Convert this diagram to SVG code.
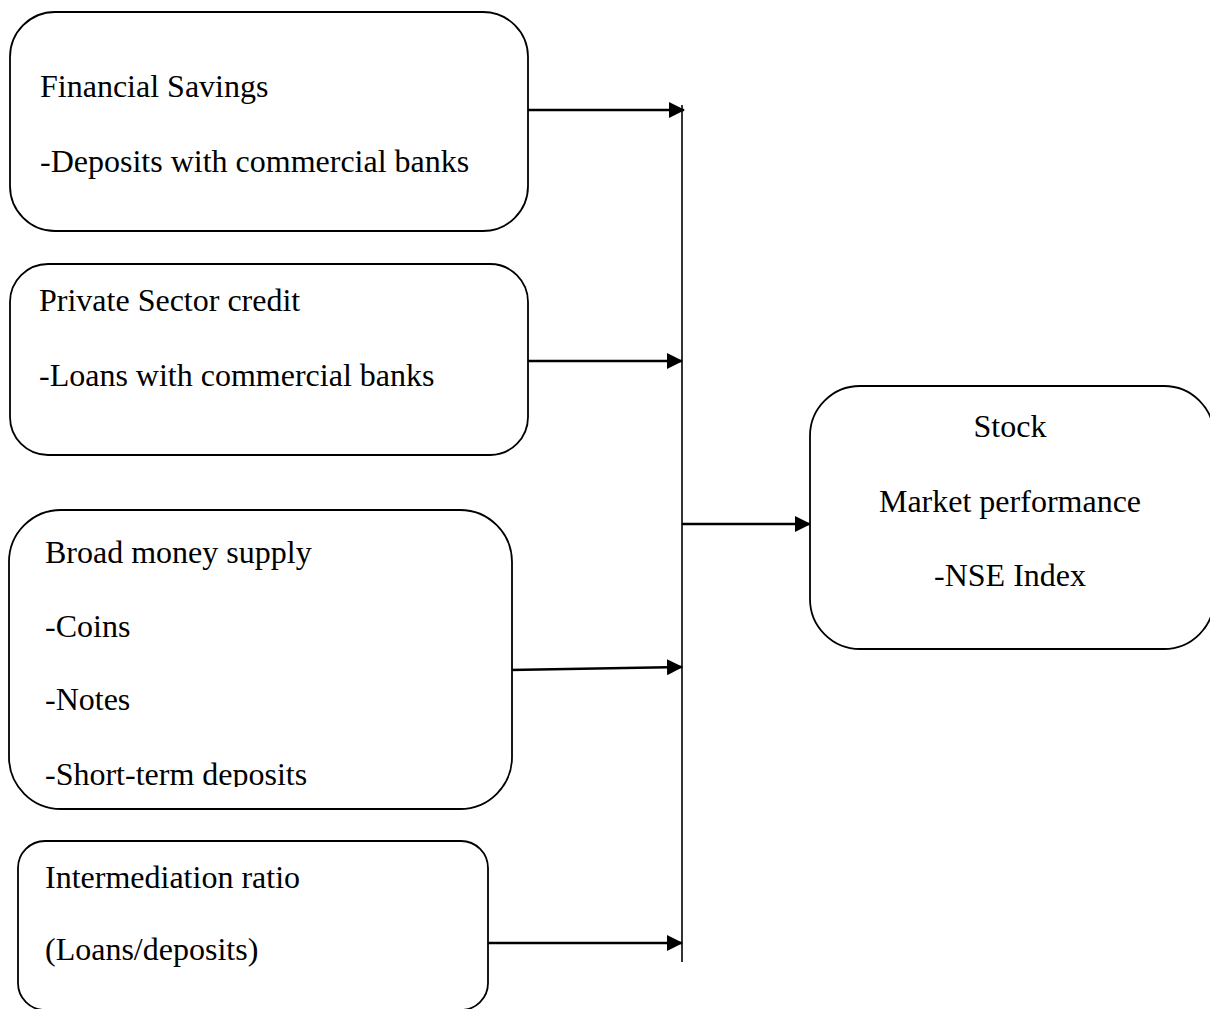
<svg xmlns="http://www.w3.org/2000/svg" width="1210" height="1009" viewBox="0 0 1210 1009">
<style>
.box{fill:#fff;stroke:#000;stroke-width:1.8}
.t{font-family:"Liberation Serif","Times New Roman",serif;font-size:32px;fill:#000}
.c{text-anchor:middle}
.ln{stroke:#000;stroke-width:2.4;fill:none}
.vl{stroke:#000;stroke-width:1.6;fill:none}
</style>
<defs>
<marker id="ah" markerWidth="16" markerHeight="16" refX="15" refY="8" orient="auto" markerUnits="userSpaceOnUse">
<path d="M0,0 L16,8 L0,16 Z" fill="#000"/>
</marker>
<clipPath id="c3"><rect x="0" y="500" width="600" height="287"/></clipPath>
</defs>
<rect width="1210" height="1009" fill="#fff"/>
<g id="connectors">
<line class="vl" x1="682" y1="105" x2="682" y2="962"/>
<line class="ln" x1="526" y1="110" x2="684" y2="110" marker-end="url(#ah)"/>
<line class="ln" x1="526" y1="361" x2="682" y2="361" marker-end="url(#ah)"/>
<line class="ln" x1="510" y1="670" x2="682" y2="667" marker-end="url(#ah)"/>
<line class="ln" x1="488" y1="943" x2="682" y2="943" marker-end="url(#ah)"/>
<line class="ln" x1="682" y1="524" x2="810" y2="524" marker-end="url(#ah)"/>
</g>
<g id="financial-savings">
<rect class="box" x="10" y="12" width="518" height="219" rx="45" ry="45"/>
<text class="t" x="40" y="97">Financial Savings</text>
<text class="t" x="40" y="172">-Deposits with commercial banks</text>
</g>
<g id="private-sector-credit">
<rect class="box" x="10" y="264" width="518" height="191" rx="38" ry="38"/>
<text class="t" x="39" y="311">Private Sector credit</text>
<text class="t" x="39" y="386">-Loans with commercial banks</text>
</g>
<g id="broad-money-supply">
<rect class="box" x="9" y="510" width="503" height="299" rx="52" ry="52"/>
<g clip-path="url(#c3)">
<text class="t" x="45" y="563">Broad money supply</text>
<text class="t" x="45" y="637">-Coins</text>
<text class="t" x="45" y="710">-Notes</text>
<text class="t" x="45" y="785">-Short-term deposits</text>
</g>
</g>
<g id="intermediation-ratio">
<rect class="box" x="18" y="841" width="470" height="169" rx="27" ry="27"/>
<text class="t" x="45" y="888">Intermediation ratio</text>
<text class="t" x="45" y="960">(Loans/deposits)</text>
</g>
<g id="stock-market-performance">
<rect class="box" x="810" y="386" width="404" height="263" rx="50" ry="50"/>
<text class="t c" x="1010" y="437">Stock</text>
<text class="t c" x="1010" y="512">Market performance</text>
<text class="t c" x="1010" y="586">-NSE Index</text>
</g>
</svg>
